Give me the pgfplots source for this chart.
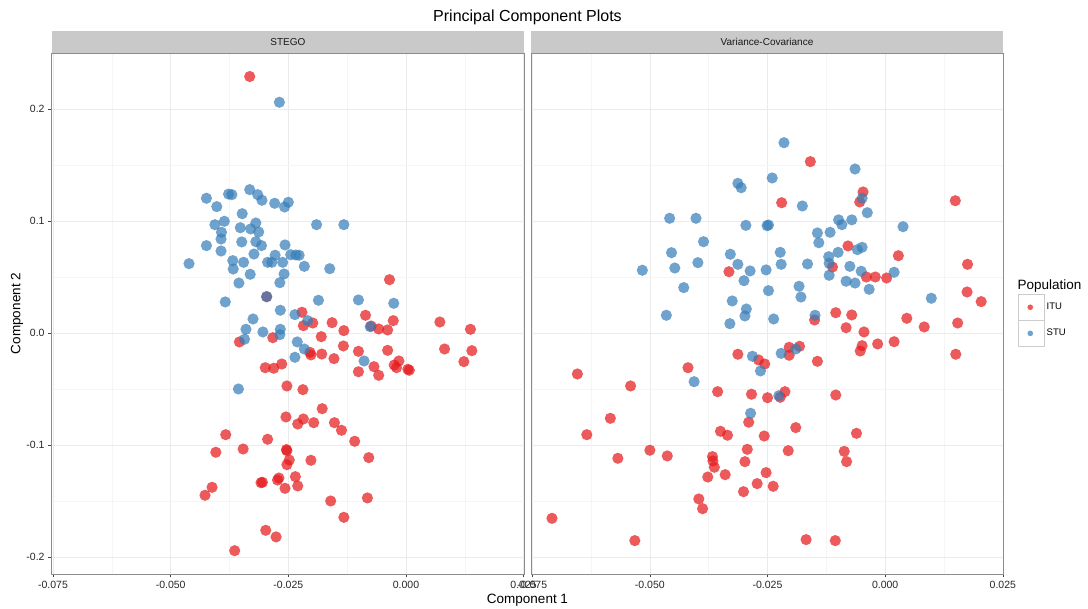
\documentclass[border=0pt]{standalone}
\usepackage{fontspec}
\setmainfont{Liberation Sans}
\usepackage{pgfplots}
\pgfplotsset{compat=1.18}
\definecolor{itu}{HTML}{E41A1C}
\definecolor{stu}{HTML}{377EB8}
\pgfplotsset{
  panel/.style={
    scale only axis, width=472.5pt, height=521pt, anchor=south west,
    xmin=-0.0753, xmax=0.0251, ymin=-0.2152, ymax=0.2500,
    xtick={-0.075,-0.05,-0.025,0,0.025},
    xticklabels={-0.075,-0.050,-0.025,0.000,0.025},
    ytick={-0.2,-0.1,0,0.1,0.2},
    yticklabels={-0.2,-0.1,0.0,0.1,0.2},
    minor x tick num=1, minor y tick num=1,
    grid=both,
    major grid style={draw=black!8, line width=0.5pt},
    minor grid style={draw=black!4, line width=0.4pt},
    axis line style={draw=black!45, line width=0.6pt},
    tick align=outside, tick pos=left,
    major tick length=3.5pt, minor tick length=0pt,
    tick style={draw=black!75, line width=0.6pt},
    tick label style={font=\fontsize{10.5}{12}\selectfont, text=black!85},
    scaled ticks=false,
  },
  popkey/.style={legend image code/.code={
    \path[draw=black!20, fill=white, line width=0.5pt, fill opacity=1, draw opacity=1] (0pt,-12.8pt) rectangle (26.7pt,12.8pt);
    \draw[mark size=2.8pt] plot coordinates {(12.5pt,0pt)};}},
  redpts/.style={color=itu, only marks, mark=*, mark size=5.6pt, mark options={solid, fill=itu, draw=itu, draw opacity=0, fill opacity=0.72}, popkey},
  bluepts/.style={color=stu, only marks, mark=*, mark size=5.6pt, mark options={solid, fill=stu, draw=stu, draw opacity=0, fill opacity=0.72}, popkey},
}
\begin{document}
\begin{tikzpicture}[x=1pt,y=1pt]
\path[use as bounding box] (0,0) rectangle (1088,609);
% ---------- STEGO panel ----------
\begin{axis}[panel, at={(51.6pt,35pt)}]
\addplot[redpts] coordinates {
(-0.0332,0.229) (-0.0035,0.0476) (-0.0221,0.0185) (-0.0198,0.0089) (-0.0218,0.0065)
(-0.0157,0.0092) (-0.0132,0.0021) (-0.0086,0.0158) (-0.0074,0.0062) (-0.0058,0.0036)
(-0.0039,0.0027) (-0.0027,0.0110) (0.0072,0.0098) (0.0137,0.0033) (-0.0354,-0.0080)
(-0.0283,-0.0042) (-0.0180,-0.0033) (-0.0133,-0.0116) (-0.0101,-0.0164) (-0.0039,-0.0155)
(0.0082,-0.0143) (0.0140,-0.0158) (-0.0204,-0.0173) (-0.0202,-0.0196) (-0.0179,-0.0188)
(-0.0153,-0.0229) (-0.0015,-0.0250) (-0.0025,-0.0286) (-0.0020,-0.0310) (0.0004,-0.0324)
(0.0007,-0.0333) (0.0123,-0.0256) (-0.0068,-0.0301) (-0.0101,-0.0346) (-0.0058,-0.0378)
(-0.0299,-0.0310) (-0.0281,-0.0315) (-0.0264,-0.0277) (-0.0296,0.0324) (-0.0253,-0.0473)
(-0.0219,-0.0506) (-0.0178,-0.0676) (-0.0255,-0.0750) (-0.0218,-0.0768) (-0.0230,-0.0813)
(-0.0196,-0.0801) (-0.0152,-0.0801) (-0.0137,-0.0869) (-0.0109,-0.0967) (-0.0079,-0.1113)
(-0.0383,-0.0908) (-0.0404,-0.1065) (-0.0346,-0.1036) (-0.0294,-0.0949) (-0.0253,-0.1051)
(-0.0254,-0.1041) (-0.0248,-0.1134) (-0.0253,-0.1176) (-0.0202,-0.1137) (-0.0235,-0.1283)
(-0.0230,-0.1366) (-0.0270,-0.1295) (-0.0273,-0.1313) (-0.0305,-0.1333) (-0.0308,-0.1337)
(-0.0257,-0.1387) (-0.0412,-0.1378) (-0.0427,-0.1449) (-0.0160,-0.1500) (-0.0082,-0.1473)
(-0.0132,-0.1646) (-0.0298,-0.1762) (-0.0276,-0.1821) (-0.0364,-0.1944)
};
\addplot[bluepts] coordinates {
(-0.0269,0.206) (-0.0424,0.1203) (-0.0402,0.1128) (-0.0377,0.1240) (-0.0370,0.1235)
(-0.0332,0.1280) (-0.0315,0.1235) (-0.0306,0.1185) (-0.0279,0.1158) (-0.0258,0.1125)
(-0.0250,0.1167) (-0.0348,0.1065) (-0.0406,0.0967) (-0.0386,0.0997) (-0.0352,0.0940)
(-0.0330,0.0929) (-0.0319,0.0982) (-0.0313,0.0902) (-0.0392,0.0899) (-0.0190,0.0967)
(-0.0132,0.0967) (-0.0393,0.0839) (-0.0424,0.0780) (-0.0349,0.0813) (-0.0319,0.0815)
(-0.0307,0.0780) (-0.0257,0.0786) (-0.0393,0.0732) (-0.0323,0.0705) (-0.0278,0.0694)
(-0.0245,0.0699) (-0.0234,0.0696) (-0.0227,0.0694) (-0.0461,0.0619) (-0.0368,0.0646)
(-0.0345,0.0631) (-0.0294,0.0631) (-0.0285,0.0631) (-0.0262,0.0631) (-0.0216,0.0595)
(-0.0162,0.0574) (-0.0367,0.0571) (-0.0331,0.0524) (-0.0259,0.0527) (-0.0355,0.0446)
(-0.0268,0.0449) (-0.0296,0.0324) (-0.0384,0.0277) (-0.0186,0.0292) (-0.0101,0.0295)
(-0.0026,0.0265) (-0.0267,0.0203) (-0.0236,0.0164) (-0.0209,0.0110) (-0.0325,0.0125)
(-0.0340,0.0033) (-0.0304,0.0009) (-0.0267,0.0033) (-0.0268,-0.0015) (-0.0343,-0.0056)
(-0.0231,-0.0080) (-0.0216,-0.0143) (-0.0236,-0.0217) (-0.0076,0.0056) (-0.0089,-0.0250)
(-0.0356,-0.0500)
};
\end{axis}
% ---------- Variance-Covariance panel ----------
\begin{axis}[panel, at={(530.8pt,35pt)}, yticklabels={}, ytick style={draw=none},
  legend style={at={(1.0297,0.5374)}, anchor=north west, draw=none, fill=none,
    inner sep=0pt, row sep=0pt, column sep=0pt,
    font=\fontsize{9.5}{11}\selectfont, nodes={inner sep=2pt, anchor=west}},
  legend cell align=left]
\addplot[redpts] coordinates {
(-0.0332,0.0547) (-0.0159,0.1530) (-0.0220,0.1163) (-0.0047,0.1259) (-0.0054,0.1170)
(0.0149,0.1181) (-0.0079,0.0777) (0.0028,0.0690) (-0.0112,0.0589) (-0.0040,0.0500)
(-0.0021,0.0500) (0.0003,0.0491) (0.0175,0.0613) (0.0174,0.0366) (0.0204,0.0280)
(-0.0105,0.0181) (-0.0071,0.0161) (-0.0150,0.0116) (-0.0083,0.0047) (-0.0045,0.0009)
(0.0046,0.0131) (0.0083,0.0054) (0.0154,0.0089) (-0.0313,-0.0190) (-0.0269,-0.0241)
(-0.0256,-0.0277) (-0.0419,-0.0310) (-0.0654,-0.0366) (-0.0541,-0.0473) (-0.0356,-0.0524)
(-0.0284,-0.0547) (-0.0250,-0.0578) (-0.0584,-0.0762) (-0.0290,-0.0797) (-0.0350,-0.0878)
(-0.0335,-0.0913) (-0.0257,-0.0920) (-0.0634,-0.0908) (-0.0293,-0.1039) (-0.0500,-0.1047)
(-0.0463,-0.1098) (-0.0568,-0.1119) (-0.0367,-0.1104) (-0.0366,-0.1143) (-0.0363,-0.1199)
(-0.0298,-0.1149) (-0.0377,-0.1286) (-0.0340,-0.1265) (-0.0253,-0.1247) (-0.0272,-0.1345)
(-0.0301,-0.1417) (-0.0396,-0.1482) (-0.0388,-0.1569) (-0.0708,-0.1655) (-0.0532,-0.1854)
(0.0019,-0.0078) (-0.0016,-0.0098) (-0.0049,-0.0113) (-0.0053,-0.0161) (0.0150,-0.0190)
(-0.0204,-0.0128) (-0.0182,-0.0119) (-0.0204,-0.0199) (-0.0144,-0.0253) (-0.0213,-0.0524)
(-0.0223,-0.0574) (-0.0105,-0.0554) (-0.0190,-0.0845) (-0.0061,-0.0896) (-0.0206,-0.1051)
(-0.0087,-0.1057) (-0.0082,-0.1149) (-0.0238,-0.1369) (-0.0168,-0.1845) (-0.0106,-0.1854)
};
\addlegendentry{ITU}
\addplot[bluepts] coordinates {
(-0.0313,0.1336) (-0.0306,0.1297) (-0.0458,0.1024) (-0.0402,0.1024) (-0.0296,0.0961)
(-0.0251,0.0958) (-0.0248,0.0964) (-0.0386,0.0815) (-0.0454,0.0717) (-0.0329,0.0703)
(-0.0398,0.0628) (-0.0313,0.0613) (-0.0447,0.0580) (-0.0516,0.0560) (-0.0287,0.0554)
(-0.0253,0.0563) (-0.0300,0.0467) (-0.0428,0.0405) (-0.0248,0.0378) (-0.0325,0.0286)
(-0.0295,0.0214) (-0.0298,0.0152) (-0.0465,0.0158) (-0.0330,0.0083) (-0.0215,0.1699)
(-0.0240,0.1384) (-0.0064,0.1464) (-0.0176,0.1134) (-0.0049,0.1203) (-0.0038,0.1074)
(-0.0099,0.1010) (-0.0092,0.0967) (-0.0071,0.1010) (0.0038,0.0949) (-0.0144,0.0893)
(-0.0117,0.0899) (-0.0141,0.0806) (-0.0223,0.0720) (-0.0059,0.0744) (-0.0049,0.0765)
(-0.0100,0.0720) (-0.0221,0.0613) (-0.0165,0.0616) (-0.0120,0.0681) (-0.0119,0.0622)
(-0.0075,0.0595) (-0.0051,0.0551) (-0.0119,0.0515) (0.0019,0.0542) (-0.0083,0.0462)
(-0.0064,0.0446) (-0.0034,0.0390) (-0.0183,0.0417) (-0.0179,0.0321) (0.0098,0.0310)
(-0.0237,0.0125) (-0.0149,0.0158) (-0.0282,-0.0208) (-0.0265,-0.0339) (-0.0406,-0.0435)
(-0.0286,-0.0717) (-0.0221,-0.0182) (-0.0190,-0.0143) (-0.0226,-0.0560)
};
\addlegendentry{STU}
\end{axis}
% ---------- strips, titles ----------
\fill[black!21] (51.6,556) rectangle (524.1,577.5);
\fill[black!21] (530.8,556) rectangle (1003.3,577.5);
\node[font=\fontsize{10}{12}\selectfont, text=black!90] at (287.85,566.75) {STEGO};
\node[font=\fontsize{10}{12}\selectfont, text=black!90] at (767.05,566.75) {Variance-Covariance};
\node[font=\fontsize{16}{19}\selectfont] at (527.5,592) {Principal Component Plots};
\node[font=\fontsize{13.5}{16}\selectfont] at (527.5,9) {Component 1};
\node[font=\fontsize{13.5}{16}\selectfont, rotate=90] at (17,295.5) {Component 2};
\node[font=\fontsize{13.5}{16}\selectfont, anchor=west, inner sep=0pt] at (1017.5,323) {Population};
\end{tikzpicture}
\end{document}
